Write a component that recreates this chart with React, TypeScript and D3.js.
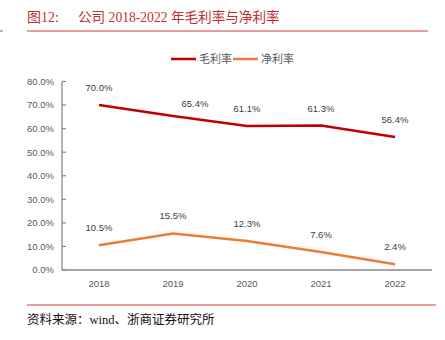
import React from "react";
import * as d3 from "d3";

const years = ["2018", "2019", "2020", "2021", "2022"];
const grossMargin = [70.0, 65.4, 61.1, 61.3, 56.4];
const netMargin = [10.5, 15.5, 12.3, 7.6, 2.4];
const yTicks = [0, 10, 20, 30, 40, 50, 60, 70, 80];
const seriesNames = ["毛利率", "净利率"];
const titleLabel = "图12:";
const titleText = "公司 2018-2022 年毛利率与净利率";
const sourceText = "资料来源：wind、浙商证券研究所";

const W = 445;
const H = 340;
const colors = ["#C00000", "#ED7D31"];
const sansLatin = "'Liberation Sans', 'Noto Sans CJK SC', sans-serif";
const serif = "'Liberation Serif', 'Noto Sans CJK SC', serif";

export default function App() {
  const x = d3.scaleBand<string>().domain(years).range([62, 432]);
  const y = d3.scaleLinear().domain([0, 80]).range([270, 81.5]);
  const cx = (d: string) => (x(d) ?? 0) + x.bandwidth() / 2;
  const line = d3
    .line<number>()
    .x((_, i) => cx(years[i]))
    .y((v) => y(v));
  const series = [grossMargin, netMargin];
  const labelShift: Record<string, number> = { "0-1": 22 };

  return (
    <svg
      width={W}
      height={H}
      style={{ position: "absolute", left: 0, top: 0, background: "#fff" }}
    >
      <text x={27} y={22} fontFamily={serif} fontSize={14} fill="#C0302F">
        {titleLabel}
      </text>
      <text x={78} y={22} fontFamily={serif} fontSize={13.6} fill="#C0302F">
        {titleText}
      </text>
      <line x1={27} x2={428} y1={31} y2={31} stroke="#D04040" strokeWidth={1} />
      <line x1={0} x2={3} y1={31} y2={31} stroke="#D04040" strokeWidth={1} />

      {/* legend */}
      {seriesNames.map((n, i) => {
        const lx = 171 + i * 62;
        return (
          <g key={n}>
            <line x1={lx} x2={lx + 25} y1={59} y2={59} stroke={colors[i]} strokeWidth={2.5} />
            <text x={lx + 28} y={63} fontFamily={sansLatin} fontSize={11} fill="#595959">
              {n}
            </text>
          </g>
        );
      })}

      {/* y axis */}
      <line x1={62} x2={62} y1={y(80)} y2={y(0)} stroke="#898989" strokeWidth={1.3} />
      {yTicks.map((t) => (
        <g key={t}>
          <line x1={62} x2={66} y1={y(t)} y2={y(t)} stroke="#898989" strokeWidth={1.2} />
          <text
            x={54}
            y={y(t)}
            dy="0.35em"
            textAnchor="end"
            fontFamily={sansLatin}
            fontSize={9.5}
            fill="#595959"
          >
            {t.toFixed(1) + "%"}
          </text>
        </g>
      ))}

      {/* x axis */}
      <line x1={62} x2={432} y1={y(0)} y2={y(0)} stroke="#898989" strokeWidth={1.3} />
      {years.map((d) => (
        <text
          key={d}
          x={cx(d)}
          y={287}
          textAnchor="middle"
          fontFamily={sansLatin}
          fontSize={9.5}
          fill="#595959"
        >
          {d}
        </text>
      ))}

      {/* lines */}
      {series.map((s, si) => (
        <path key={si} d={line(s) ?? ""} fill="none" stroke={colors[si]} strokeWidth={2.5} />
      ))}

      {/* labels */}
      {series.map((s, si) =>
        s.map((v, i) => (
          <text
            key={si + "-" + i}
            x={cx(years[i]) + (labelShift[si + "-" + i] ?? 0)}
            y={y(v) - (labelShift[si + "-" + i] ? 9 : 14)}
            textAnchor="middle"
            fontFamily={sansLatin}
            fontSize={9.5}
            fill="#404040"
          >
            {v.toFixed(1) + "%"}
          </text>
        ))
      )}

      <line x1={27} x2={436} y1={305} y2={305} stroke="#D04040" strokeWidth={1} />
      <text x={27} y={324} fontFamily={serif} fontSize={12.5} fill="#111">
        {sourceText}
      </text>
    </svg>
  );
}
